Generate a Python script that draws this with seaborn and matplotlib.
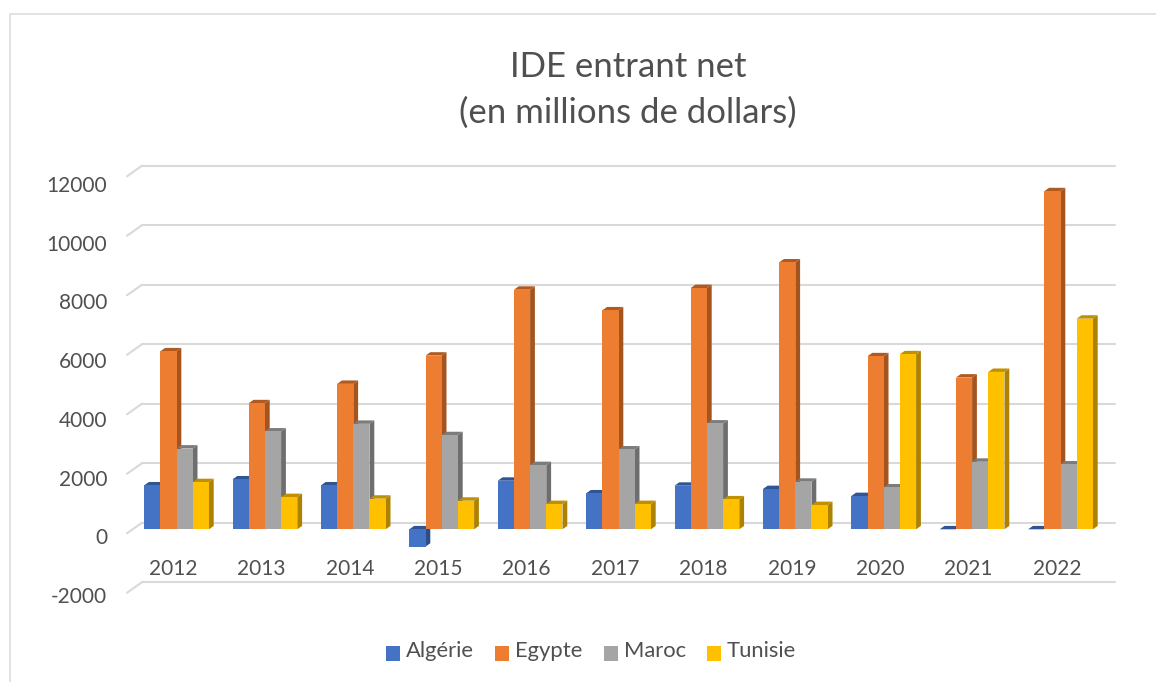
import numpy as np
import pandas as pd
import matplotlib
matplotlib.use('Agg')
import matplotlib.pyplot as plt
import seaborn as sns
from matplotlib.lines import Line2D
from matplotlib.patches import Polygon
from matplotlib.transforms import IdentityTransform, Affine2D

annees = ['2012', '2013', '2014', '2015', '2016', '2017', '2018', '2019', '2020', '2021', '2022']
algerie = [1476, 1678, 1476, -582, 1633, 1208, 1465, 1353, 1118, 0, 0]
egypte = [5983, 4238, 4889, 5839, 8054, 7360, 8110, 8971, 5817, 5101, 11365]
maroc = [2715, 3289, 3546, 3165, 2159, 2685, 3557, 1600, 1409, 2271, 2181]
tunisie = [1587, 1084, 1030, 962, 850, 850, 1007, 816, 5884, 5291, 7081]
pays = ['Algérie', 'Egypte', 'Maroc', 'Tunisie']
couleurs = ['#4472C4', '#ED7D31', '#A5A5A5', '#FFC000']
cotes = ['#2C4D86', '#A4551F', '#6E6E6E', '#AD8200']
dessus = ['#2F5597', '#AE5A21', '#7C7C7C', '#BF9000']
graduations = [-2000, 0, 2000, 4000, 6000, 8000, 10000, 12000]

W, H = 1156, 682
GRIS = '#505050'
GRILLE = '#D9D9D9'

sns.set_theme(style='white')
plt.rcParams['font.family'] = ['Lato', 'DejaVu Sans']

df = pd.DataFrame({'annee': annees * 4,
                   'pays': np.repeat(pays, len(annees)),
                   'ide': algerie + egypte + maroc + tunisie})

fig = plt.figure(figsize=(W / 100, H / 100), dpi=100, facecolor='white')
# axe en pixels: x de 132.3 a 1104.7, y de 172.3 a 588.8 (depuis le haut)
ax = fig.add_axes([132.3 / W, (H - 588.8) / H, (1104.7 - 132.3) / W, (588.8 - 172.3) / H])
sns.barplot(data=df, x='annee', y='ide', hue='pays', hue_order=pays, palette=couleurs,
            saturation=1, width=0.733, gap=0, dodge=True, linewidth=0, ax=ax)
ax.set_xlim(-0.5, 10.5)
ax.set_ylim(-2000, 12000)
ax.set_xlabel('')
ax.set_ylabel('')
ax.patch.set_alpha(0)
for s in ax.spines.values():
    s.set_visible(False)

ax.set_yticks(graduations)
ax.set_yticklabels([str(v) for v in graduations])
ax.tick_params(axis='y', length=0, pad=18, labelsize=15, labelcolor=GRIS)
ax.tick_params(axis='x', length=0, pad=-21.5, labelsize=15, labelcolor=GRIS)
for lab in ax.get_xticklabels():
    lab.set_transform(lab.get_transform() + Affine2D().translate(-3.5, 0))
for lab, v in zip(ax.get_yticklabels(), graduations):
    lab.set_transform(lab.get_transform() + Affine2D().translate(0, -(7 + v * 4.7 / 12000)))

px = IdentityTransform()


def trait(xs, ys, couleur=GRILLE, lw=1.5, z=0):
    fig.add_artist(Line2D(xs, ys, transform=px, color=couleur, lw=lw, zorder=z))


# cadre
trait([9.5, 9.5], [0, H - 14], '#E2E2E2', 1.4)
trait([9.5, W], [H - 14, H - 14], '#E2E2E2', 1.4)

# mur du fond: grille decalee par rapport au plan des barres
x_front = ax.transData.transform([(-0.5, 0), (10.5, 0)])[:, 0]
for v in graduations:
    y = ax.transData.transform((0, v))[1]
    trait([x_front[0] + 9.7, x_front[1] + 10.3], [y + 6.6, y + 6.6])
    trait([x_front[0] - 5.3, x_front[0] + 9.7], [y - 4, y + 6.6])

# faces laterales et superieures des barres
z = 3
DX, DY = 4.8, 3.4
barres = []
for c, cont in enumerate(ax.containers):
    for b in cont:
        barres.append((b.get_x(), c, b))
for _, c, b in sorted(barres, key=lambda t: (t[0], t[1])):
    (x0, y0), (x1, y1) = ax.transData.transform(
        [(b.get_x(), min(b.get_y(), b.get_y() + b.get_height())),
         (b.get_x() + b.get_width(), max(b.get_y(), b.get_y() + b.get_height()))])
    ax.add_patch(Polygon([(x1, y0), (x1 + DX, y0 + DY), (x1 + DX, y1 + DY), (x1, y1)],
                         closed=True, transform=px, facecolor=cotes[c], lw=0, zorder=z))
    ax.add_patch(Polygon([(x0, y1), (x1, y1), (x1 + DX, y1 + DY), (x0 + DX, y1 + DY)],
                         closed=True, transform=px, facecolor=dessus[c], lw=0, zorder=z))
    b.set_zorder(z + 1)
    z += 2

fig.text(628 / W, (H - 90) / H, 'IDE entrant net\n(en millions de dollars)', ha='center', va='center',
         fontsize=25, color=GRIS, linespacing=1.49)

h, l = ax.get_legend_handles_labels()
leg = ax.legend(h, l, loc='center', bbox_to_anchor=(591 / W, (H - 651) / H), bbox_transform=fig.transFigure,
                ncol=4, frameon=False, fontsize=15.8, labelcolor=GRIS, handlelength=0.64, handleheight=0.64,
                handletextpad=0.27, columnspacing=0.97, borderpad=0, borderaxespad=0)
# carres de legende un peu plus bas que le texte
for p in leg.get_patches():
    p.set_y(p.get_y() - 3)

fig.savefig('out.png', dpi=100)
